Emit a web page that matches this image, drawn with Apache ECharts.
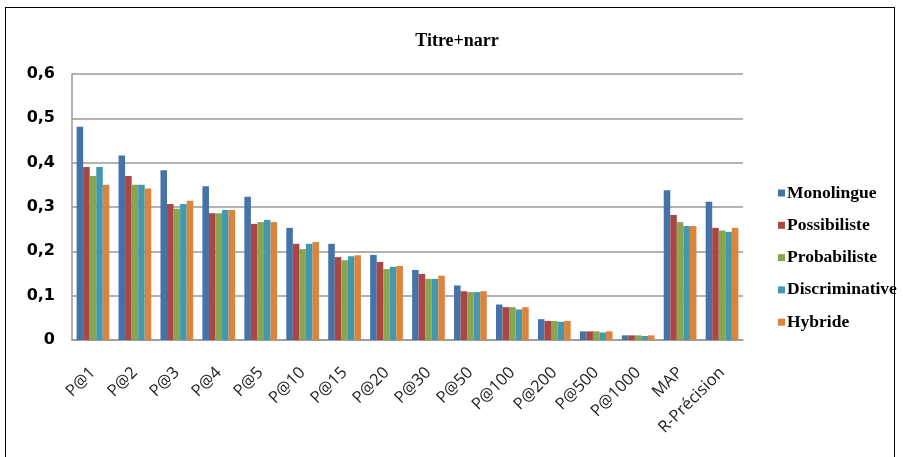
<!DOCTYPE html>
<html lang="fr">
<head>
    <meta charset="UTF-8">
    <title>Titre+narr</title>
    <script src="https://cdn.jsdelivr.net/npm/echarts@6.0.0/dist/echarts.min.js"></script>
    <style>
        html, body { margin: 0; padding: 0; background: #fff; }
        #frame {
            position: absolute; left: 5px; top: 7px; width: 890px; height: 460px;
            border: 1.5px solid #000; border-bottom: none; box-sizing: border-box;
        }
        #chart { position: absolute; left: 0; top: 0; width: 903px; height: 457px; }
    </style>
</head>
<body>
    <div id="frame"></div>
    <div id="chart"></div>
    <script>
        // catégories et valeurs
        const categories = ['P@1', 'P@2', 'P@3', 'P@4', 'P@5', 'P@10', 'P@15', 'P@20',
            'P@30', 'P@50', 'P@100', 'P@200', 'P@500', 'P@1000', 'MAP', 'R-Précision'];
        const monolingue     = [0.481, 0.416, 0.383, 0.347, 0.323, 0.253, 0.217, 0.192, 0.158, 0.123, 0.080, 0.047, 0.0195, 0.0105, 0.338, 0.312];
        const possibiliste   = [0.390, 0.370, 0.307, 0.286, 0.262, 0.217, 0.187, 0.176, 0.149, 0.110, 0.074, 0.043, 0.0195, 0.0105, 0.282, 0.253];
        const probabiliste   = [0.370, 0.350, 0.296, 0.286, 0.266, 0.205, 0.180, 0.160, 0.138, 0.108, 0.074, 0.043, 0.0195, 0.0105, 0.266, 0.247];
        const discriminative = [0.390, 0.350, 0.307, 0.293, 0.271, 0.217, 0.189, 0.165, 0.138, 0.108, 0.069, 0.041, 0.017, 0.009, 0.257, 0.244];
        const hybride        = [0.350, 0.342, 0.314, 0.293, 0.266, 0.221, 0.191, 0.167, 0.145, 0.110, 0.074, 0.043, 0.0195, 0.0105, 0.257, 0.253];
        const seriesNames = ['Monolingue', 'Possibiliste', 'Probabiliste', 'Discriminative', 'Hybride'];
        const seriesData = [monolingue, possibiliste, probabiliste, discriminative, hybride];
        const colors = ['#4572A7', '#AA4643', '#89A54E', '#4198AF', '#DB843D'];

        const chart = echarts.init(document.getElementById('chart'));
        chart.setOption({
            animation: false,
            color: colors,
            title: {
                text: 'Titre+narr',
                left: 452, top: 27, textAlign: 'center',
                textStyle: { fontFamily: 'Liberation Serif', fontWeight: 'bold', fontSize: 18, color: '#000' }
            },
            legend: {
                orient: 'vertical',
                left: 773, top: 179,
                itemWidth: 7, itemHeight: 7, itemGap: 14.3,
                icon: 'rect',
                textStyle: { fontFamily: 'Liberation Serif', fontWeight: 'bold', fontSize: 17.5, color: '#000', padding: [0, 0, 0, -3] }
            },
            grid: { left: 72, right: 160, top: 74, bottom: 117 },
            xAxis: {
                type: 'category',
                data: categories,
                axisLine: { lineStyle: { color: '#999', width: 1.5 } },
                axisTick: { show: false },
                axisLabel: {
                    interval: 0, rotate: 45, margin: 30,
                    fontFamily: 'Open Sans', fontSize: 16.5, color: '#222'
                }
            },
            yAxis: {
                type: 'value',
                min: 0, max: 0.6, interval: 0.1,
                axisLine: { show: true, lineStyle: { color: '#999', width: 1.5 } },
                axisTick: { show: false },
                splitLine: { lineStyle: { color: '#999', width: 1.5 } },
                axisLabel: {
                    margin: 17,
                    fontFamily: 'DejaVu Sans', fontWeight: 'bold', fontSize: 16, color: '#000',
                    formatter: v => (v === 0 ? '0' : v.toFixed(1).replace('.', ','))
                }
            },
            series: seriesNames.map((name, i) => ({
                name: name,
                type: 'bar',
                data: seriesData[i],
                barGap: '0%',
                barCategoryGap: '22%'
            }))
        });
    </script>
</body>
</html>
